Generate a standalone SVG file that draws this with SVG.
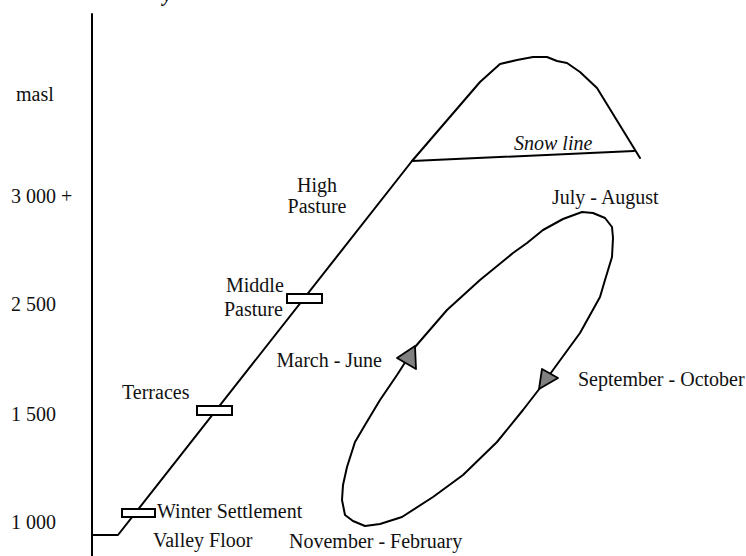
<svg xmlns="http://www.w3.org/2000/svg" width="746" height="556" viewBox="0 0 746 556">
<style>
text{font-family:"Liberation Serif","Times New Roman",serif;font-size:20px;fill:#111}
.ln{fill:none;stroke:#000;stroke-width:2;stroke-linejoin:round;stroke-linecap:round}
.camp{fill:#fff;stroke:#000;stroke-width:2}
.arr{fill:#808080;stroke:#000;stroke-width:1.8;stroke-linejoin:round}
</style>
<rect width="746" height="556" fill="#fff"/>
<g id="title-fragment"><text x="163" y="1" font-style="italic" font-weight="bold" font-size="24">y</text></g>
<g id="axis">
<line class="ln" x1="92" y1="14" x2="92" y2="556" stroke-linecap="butt"/>
<text x="16" y="101">masl</text>
<text x="11" y="203">3 000 +</text>
<text x="11" y="311">2 500</text>
<text x="11" y="421">1 500</text>
<text x="11" y="529">1 000</text>
</g>
<g id="connectors">
<g id="mountain">
<path class="ln" d="M92,535 L118,535 L412,161 L480,82 L500,64 L517,60 L533,57 L547,57 L557,61 L567,63 L580,72 L597,88 L640,158"/>
<line class="ln" x1="412" y1="161" x2="634" y2="151"/>
</g>
<g id="cycle">
<path class="ln" d="M513,253 L527,243 L543,230 L563,219 L582,212 L593,213 L605,218 L612,227 L613,238 L612,257 L605,280 L600,297 L580,333 L553,370 L540,388 L523,410 L497,442 L463,475 L433,497 L402,517 L380,524 L365,526 L353,521 L345,515 L342,500 L343,485 L347,467 L355,442 L365,425 L380,400 L397,375 L415,347 L447,310 L480,280 Z"/>
<polygon class="arr" points="397,358 415,346 416,369"/>
<polygon class="arr" points="542,369 558,378 539,389"/>
</g>
</g>
<g id="snow-line"><text x="514" y="150" font-style="italic">Snow line</text></g>
<g id="winter-settlement">
<rect class="camp" x="122" y="509" width="33" height="8"/>
<text x="157" y="518">Winter Settlement</text>
</g>
<g id="valley-floor"><text x="153" y="547">Valley Floor</text></g>
<g id="terraces">
<rect class="camp" x="197" y="406" width="35" height="9"/>
<text x="122" y="399">Terraces</text>
</g>
<g id="middle-pasture">
<rect class="camp" x="287" y="294" width="35" height="9"/>
<text x="226" y="292">Middle</text>
<text x="224" y="316">Pasture</text>
</g>
<g id="high-pasture">
<text x="317" y="192" text-anchor="middle">High</text>
<text x="317" y="213" text-anchor="middle">Pasture</text>
</g>
<g id="july-august"><text x="552" y="204">July - August</text></g>
<g id="march-june"><text x="382" y="367" text-anchor="end">March - June</text></g>
<g id="september-october"><text x="578" y="386">September - October</text></g>
<g id="november-february"><text x="289" y="548">November - February</text></g>
</svg>
